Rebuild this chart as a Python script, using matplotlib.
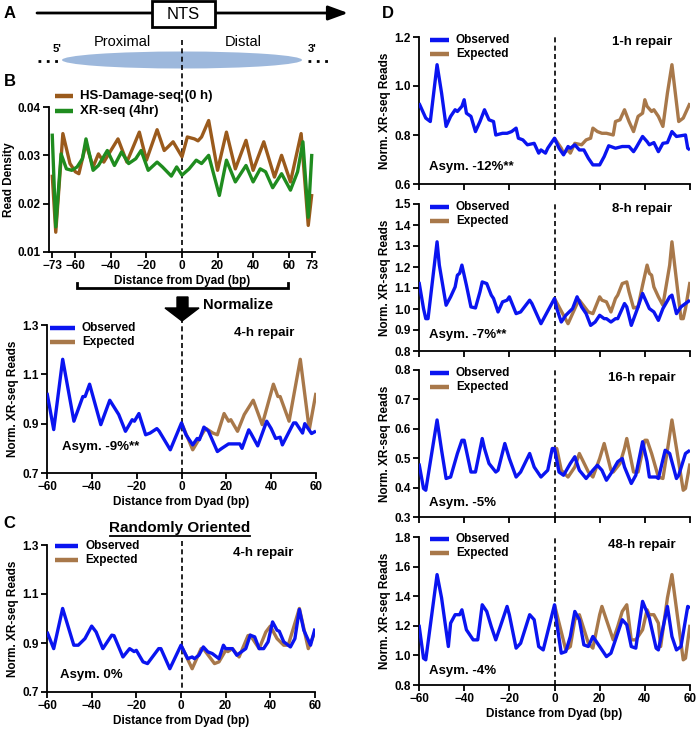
import matplotlib
matplotlib.use('Agg')
import matplotlib.pyplot as plt
from matplotlib.patches import Ellipse, Rectangle, Polygon

plt.rcParams['font.family'] = ['Liberation Sans', 'DejaVu Sans']
plt.rcParams['font.weight'] = 'bold'
plt.rcParams['axes.labelweight'] = 'bold'

# ---- panel B (top): read density ----
hs_x = [-73, -71, -67, -63, -60, -58, -54, -50, -47, -44, -36, -31, -24, -20, -14, -10, -8, -5, 0,
        3, 7, 9, 11, 15, 20, 25, 30, 36, 40, 46, 52, 56, 61, 67, 71, 73]
hs_y = [0.026, 0.0141, 0.0345, 0.0283, 0.0266, 0.0262, 0.0324, 0.0276, 0.0303, 0.0286, 0.0334, 0.0286,
        0.0348, 0.029, 0.0353, 0.031, 0.0317, 0.0328, 0.0297, 0.0338, 0.0334, 0.0330, 0.0338, 0.0372,
        0.0269, 0.0348, 0.0272, 0.0331, 0.0269, 0.0328, 0.0255, 0.030, 0.0245, 0.0345, 0.0155, 0.022]
xr_x = [-73, -71, -68, -65, -62, -59, -56, -54, -50, -47, -42, -38, -34, -30, -26, -23, -19, -14, -11, -6,
        -3, 0, 4, 8, 11, 15, 21, 25, 30, 36, 40, 44, 47, 51, 56, 61, 65, 68, 71, 73]
xr_y = [0.0345, 0.0152, 0.0303, 0.0272, 0.0269, 0.0276, 0.0293, 0.0334, 0.0269, 0.0279, 0.031, 0.0279,
        0.0307, 0.0283, 0.0293, 0.031, 0.0269, 0.0286, 0.0276, 0.0257, 0.0276, 0.0259, 0.0272, 0.029,
        0.0283, 0.030, 0.0217, 0.029, 0.0245, 0.0279, 0.0245, 0.0272, 0.0266, 0.0233, 0.0262, 0.0228,
        0.0266, 0.0328, 0.0172, 0.0303]

# ---- panel B (bottom): 4-h repair ----
b4_obs_x = [-60, -57, -53, -48, -44, -43, -41, -36, -32, -28, -25, -22, -21, -19, -16, -14, -11, -10, -5, 0,
            2, 5, 7, 8, 10, 12, 16, 18, 21, 26, 27, 30, 31, 34, 38, 40, 42, 44, 45, 50, 51, 54, 55, 58, 60]
b4_obs_y = [1.025, 0.876, 1.161, 0.91, 1.01, 1.01, 1.06, 0.896, 0.995, 0.937, 0.869, 0.916, 0.91, 0.941,
            0.855, 0.862, 0.88, 0.87, 0.794, 0.903, 0.855, 0.814, 0.84, 0.835, 0.886, 0.87, 0.787, 0.80,
            0.818, 0.818, 0.80, 0.875, 0.86, 0.81, 0.91, 0.88, 0.84, 0.845, 0.814, 0.903, 0.903, 0.862,
            0.90, 0.86, 0.87]
b4_exp_x = [0, 5, 10, 11, 14, 16, 19, 21, 22, 25, 28, 32, 36, 41, 43, 44, 48, 53, 57, 60]
b4_exp_y = [0.903, 0.794, 0.87, 0.88, 0.862, 0.855, 0.941, 0.91, 0.916, 0.869, 0.937, 0.995, 0.896, 1.06,
            1.01, 1.01, 0.91, 1.161, 0.876, 1.025]

# ---- panel C: randomly oriented ----
c_obs_x = [-60, -57, -53, -48, -46, -43, -40, -38, -35, -31, -30, -26, -23, -21, -20, -17, -15, -10, -9, -5, 0,
           3, 5, 6, 8, 10, 12, 14, 17, 19, 20, 23, 25, 26, 29, 31, 33, 35, 37, 39, 41, 43, 44, 46, 49, 51,
           53, 55, 58, 60]
c_obs_y = [0.946, 0.877, 1.041, 0.891, 0.891, 0.918, 0.969, 0.945, 0.877, 0.932, 0.93, 0.843, 0.877, 0.865,
           0.87, 0.823, 0.816, 0.877, 0.877, 0.795, 0.891, 0.836, 0.843, 0.836, 0.85, 0.884, 0.864, 0.857,
           0.836, 0.891, 0.877, 0.877, 0.85, 0.857, 0.877, 0.932, 0.925, 0.877, 0.877, 0.905, 0.986, 0.952,
           0.948, 0.905, 0.884, 0.918, 1.037, 0.952, 0.891, 0.959]
c_exp_x = [0, 5, 9, 10, 15, 17, 20, 21, 23, 26, 30, 31, 35, 38, 40, 43, 46, 48, 53, 57, 60]
c_exp_y = [0.891, 0.795, 0.877, 0.877, 0.816, 0.823, 0.87, 0.865, 0.877, 0.843, 0.93, 0.932, 0.877, 0.945,
           0.969, 0.918, 0.891, 0.891, 1.041, 0.877, 0.946]

# ---- panel D: 1, 8, 16, 48 h ----
d1_obs_x = [-60, -57, -55, -52, -50, -48, -46, -44, -43, -41, -40, -39, -37, -35, -33, -31, -29, -27, -26, -23,
            -21, -19, -17, -16, -14, -12, -9, -7, -6, -4, -3, 0,
            2, 4, 6, 7, 9, 11, 13, 15, 17, 20, 22, 24, 27, 30, 33, 35, 36, 39, 41, 42, 44, 46, 48, 50,
            52, 54, 56, 58, 59, 60]
d1_obs_y = [0.93, 0.869, 0.855, 1.087, 0.971, 0.835, 0.876, 0.903, 0.896, 0.917, 0.944, 0.889, 0.876, 0.814,
            0.855, 0.903, 0.862, 0.855, 0.80, 0.807, 0.807, 0.814, 0.828, 0.787, 0.78, 0.76, 0.766, 0.726,
            0.739, 0.726, 0.746, 0.787,
            0.746, 0.719, 0.753, 0.746, 0.76, 0.739, 0.739, 0.705, 0.678, 0.678, 0.712, 0.756, 0.746, 0.753,
            0.753, 0.732, 0.746, 0.794, 0.773, 0.76, 0.769, 0.732, 0.766, 0.769, 0.814, 0.794, 0.797, 0.80,
            0.746, 0.739]
d1_exp_x = [0, 3, 4, 6, 7, 9, 12, 14, 16, 17, 19, 21, 23, 26, 27, 29, 31, 33, 35, 37, 39, 40, 41, 43, 44, 46,
            48, 50, 52, 55, 57, 60]
d1_exp_y = [0.787, 0.746, 0.726, 0.739, 0.726, 0.766, 0.76, 0.78, 0.787, 0.828, 0.814, 0.807, 0.807, 0.80,
            0.855, 0.862, 0.903, 0.855, 0.814, 0.876, 0.889, 0.944, 0.917, 0.896, 0.903, 0.876, 0.835, 0.971,
            1.087, 0.855, 0.869, 0.93]

d8_obs_x = [-60, -58, -57, -56, -52, -51, -48, -46, -44, -43, -42, -41, -39, -37, -35, -33, -32, -30, -28, -27,
            -25, -23, -21, -20, -17, -15, -11, -10, -6, 0,
            1, 3, 5, 8, 10, 12, 14, 16, 18, 20, 22, 23, 25, 27, 28, 31, 32, 34, 37, 39, 42, 44, 46, 48,
            51, 52, 54, 56, 58, 60]
d8_obs_y = [1.129, 1.002, 0.954, 0.954, 1.32, 1.209, 1.018, 1.058, 1.105, 1.161, 1.17, 1.209, 1.113, 1.01,
            1.005, 1.082, 1.129, 1.121, 1.066, 1.05, 0.986, 1.034, 1.042, 1.058, 0.978, 0.986, 1.042, 1.026,
            0.93, 1.05,
            1.002, 0.938, 0.97, 1.002, 1.058, 1.01, 0.978, 0.922, 0.938, 0.97, 0.954, 0.954, 0.938, 0.954,
            0.954, 1.026, 1.01, 0.922, 1.01, 1.074, 1.002, 0.986, 0.946, 1.002, 1.058, 1.066, 0.978, 1.01,
            1.026, 1.042]
d8_exp_x = [0, 6, 10, 11, 15, 17, 20, 21, 23, 25, 27, 28, 30, 32, 33, 35, 37, 39, 41, 42, 43, 44, 46, 48,
            51, 52, 56, 57, 58, 60]
d8_exp_y = [1.05, 0.93, 1.026, 1.042, 0.986, 0.978, 1.058, 1.042, 1.034, 0.986, 1.05, 1.066, 1.121, 1.129,
            1.082, 1.005, 1.01, 1.113, 1.209, 1.17, 1.161, 1.105, 1.058, 1.018, 1.209, 1.32, 0.954, 0.954,
            1.002, 1.129]

d16_obs_x = [-60, -58, -57, -52, -50, -48, -46, -43, -41, -40, -37, -35, -32, -31, -29, -26, -25, -22, -20, -17,
             -15, -11, -9, -6, -3, -1, 0,
             2, 4, 7, 9, 11, 14, 17, 19, 21, 23, 25, 28, 30, 31, 34, 36, 39, 41, 42, 45, 46, 49, 51, 54,
             55, 58, 60]
d16_obs_y = [0.482, 0.397, 0.391, 0.63, 0.527, 0.431, 0.436, 0.516, 0.561, 0.561, 0.453, 0.453, 0.567, 0.533,
             0.482, 0.453, 0.459, 0.55, 0.499, 0.436, 0.453, 0.516, 0.47, 0.436, 0.459, 0.533, 0.533,
             0.453, 0.442, 0.482, 0.505, 0.459, 0.431, 0.459, 0.476, 0.459, 0.425, 0.448, 0.488, 0.499, 0.47,
             0.414, 0.442, 0.556, 0.488, 0.436, 0.436, 0.431, 0.527, 0.516, 0.431, 0.442, 0.516, 0.527]
d16_exp_x = [0, 1, 3, 6, 9, 11, 15, 17, 20, 22, 25, 26, 29, 31, 32, 35, 37, 40, 41, 43, 46, 48, 50, 52, 57,
             58, 60]
d16_exp_y = [0.533, 0.533, 0.459, 0.436, 0.47, 0.516, 0.453, 0.436, 0.499, 0.55, 0.459, 0.453, 0.482, 0.533,
             0.567, 0.453, 0.453, 0.561, 0.561, 0.516, 0.436, 0.431, 0.527, 0.63, 0.391, 0.397, 0.482]

d48_obs_x = [-60, -58, -57, -52, -50, -47, -46, -44, -42, -41, -39, -36, -34, -32, -30, -28, -26, -24, -21, -20,
             -17, -15, -11, -9, -7, -5, 0,
             1, 3, 5, 7, 9, 11, 13, 15, 17, 20, 23, 25, 30, 32, 34, 36, 39, 42, 45, 46, 50, 52, 54, 56,
             59, 60]
d48_obs_y = [1.207, 0.981, 0.97, 1.546, 1.388, 1.06, 1.218, 1.275, 1.275, 1.308, 1.173, 1.105, 1.105, 1.342,
             1.297, 1.195, 1.105, 1.195, 1.331, 1.275, 1.049, 1.082, 1.275, 1.241, 1.06, 1.037, 1.342,
             1.218, 1.015, 1.026, 1.128, 1.297, 1.241, 1.071, 1.06, 1.128, 1.06, 0.992, 1.015, 1.241, 1.207,
             1.06, 1.049, 1.365, 1.252, 1.049, 1.037, 1.331, 1.128, 1.037, 1.06, 1.331, 1.32]
d48_exp_x = [0, 5, 7, 9, 11, 15, 17, 20, 21, 24, 26, 28, 30, 32, 34, 36, 39, 41, 42, 44, 46, 47, 50, 52, 57,
             58, 60]
d48_exp_y = [1.342, 1.037, 1.06, 1.241, 1.275, 1.082, 1.049, 1.275, 1.331, 1.195, 1.105, 1.195, 1.297, 1.342,
             1.105, 1.105, 1.173, 1.308, 1.275, 1.275, 1.218, 1.06, 1.388, 1.546, 0.97, 0.981, 1.207]

d_hours = ['1-h repair', '8-h repair', '16-h repair', '48-h repair']
d_asym = ['Asym. -12%**', 'Asym. -7%**', 'Asym. -5%', 'Asym. -4%']
d_yticks = [[0.6, 0.8, 1.0, 1.2],
            [0.8, 0.9, 1.0, 1.1, 1.2, 1.3, 1.4, 1.5],
            [0.3, 0.4, 0.5, 0.6, 0.7, 0.8],
            [0.8, 1.0, 1.2, 1.4, 1.6, 1.8]]
dist_ticks = [-60, -40, -20, 0, 20, 40, 60]
b_top_xticks = [-73, -60, -40, -20, 0, 20, 40, 60, 73]
b_top_yticks = [0.01, 0.02, 0.03, 0.04]
norm_yticks = [0.7, 0.9, 1.1, 1.3]

BLUE = '#0a14f0'
EXPC = '#a8784a'
HSB = '#9a5a1c'
GRN = '#1f8c1f'

W, H = 700, 733
fig = plt.figure(figsize=(7, 7.33), dpi=100)

# overlay in pixel coords for the schematic, legends and annotations
ov = fig.add_axes([0, 0, 1, 1], zorder=0)
ov.set_xlim(0, W)
ov.set_ylim(H, 0)
ov.axis('off')


def box(x0, y0, x1, y1):
    ax = fig.add_axes([x0 / W, 1 - y1 / H, (x1 - x0) / W, (y1 - y0) / H], zorder=1)
    ax.patch.set_alpha(0)
    return ax


def style(ax, ylim, yticks, yfmt, xticks, xlim=(-60, 60), xlabels=True,
          ylabel='Norm. XR-seq Reads', vline=True):
    ax.set_xlim(*xlim)
    ax.set_ylim(*ylim)
    for s in ['top', 'right']:
        ax.spines[s].set_visible(False)
    for s in ['left', 'bottom']:
        ax.spines[s].set_linewidth(1.3)
    ax.set_yticks(yticks)
    ax.set_yticklabels([yfmt.format(v) for v in yticks])
    ax.set_xticks(xticks)
    ax.tick_params(length=4, width=1.3, labelsize=8.5, pad=2)
    if xlabels:
        ax.set_xlabel('Distance from Dyad (bp)', fontsize=8.5, labelpad=2)
    else:
        ax.set_xticklabels([])
    ax.set_ylabel(ylabel, fontsize=8.5, labelpad=2)
    if vline:
        ax.axvline(0, color='k', ls=(0, (3, 2)), lw=1.2, zorder=1)


def curve(ax, x, y, c, lw=2.4):
    ax.plot(x, y, color=c, lw=lw, solid_joinstyle='round', solid_capstyle='butt', zorder=3)


def legend(x0, y_obs, c1, t1, c2, t2, length, fs=8.5):
    ov.plot([x0, x0 + length], [y_obs, y_obs], color=c1, lw=3.2, solid_capstyle='butt')
    ov.text(x0 + length + 7, y_obs, t1, va='center', fontsize=fs)
    y2 = y_obs + (15 if fs > 9 else 14)
    ov.plot([x0, x0 + length], [y2, y2], color=c2, lw=3.2, solid_capstyle='butt')
    ov.text(x0 + length + 7, y2, t2, va='center', fontsize=fs)


def dash(y0, y1):
    ov.plot([182, 182], [y0, y1], color='k', ls=(0, (3, 2)), lw=1.2)


# ---- panel A schematic ----
ov.annotate('', xy=(348, 13), xytext=(37, 13),
            arrowprops=dict(arrowstyle='-|>,head_length=0.6,head_width=0.22', lw=2, color='k',
                            shrinkA=0, shrinkB=0, mutation_scale=20))
ov.add_patch(Rectangle((152, 1), 63, 26, fc='white', ec='k', lw=2, zorder=5))
ov.text(183.5, 14.5, 'NTS', ha='center', va='center', fontsize=12, fontweight='normal', zorder=6)
ov.text(122, 42, 'Proximal', ha='center', va='center', fontsize=10.5, fontweight='normal')
ov.text(243, 42, 'Distal', ha='center', va='center', fontsize=10.5, fontweight='normal')
ov.add_patch(Ellipse((182, 60), 240, 17, fc='#9db8dc', ec='none'))
ov.plot([38, 58], [61, 61], color='k', ls=(0, (1, 2)), lw=2)
ov.plot([308, 328], [61, 61], color='k', ls=(0, (1, 2)), lw=2)
ov.text(57, 49, "5'", ha='center', va='center', fontsize=8)
ov.text(312, 49, "3'", ha='center', va='center', fontsize=8)
dash(40, 252)

for lab, px, py in [('A', 10, 13), ('B', 10, 82), ('C', 9, 523), ('D', 388, 13)]:
    ov.text(px, py, lab, ha='center', va='center', fontsize=12)

# ---- panel B top ----
ax = box(49, 107, 315, 252)
style(ax, (0.01, 0.04), b_top_yticks, '{:.2f}', b_top_xticks, xlim=(-74.8, 74.8),
      ylabel='Read Density', vline=False)
curve(ax, hs_x, hs_y, HSB)
curve(ax, xr_x, xr_y, GRN)
legend(55, 96, HSB, 'HS-Damage-seq (0 h)', GRN, 'XR-seq (4hr)', 18, fs=9.5)

# bracket + normalize arrow
ov.plot([77, 77, 288, 288], [283, 288, 288, 283], color='k', lw=2, solid_joinstyle='miter')
ov.add_patch(Polygon([(177, 297), (188, 297), (188, 308), (199, 308), (182, 321), (165, 308), (177, 308)],
                     closed=True, fc='k', ec='k'))
ov.text(203, 305, 'Normalize', va='center', fontsize=10.5)

# ---- panel B bottom ----
ax = box(47, 325, 316, 473)
style(ax, (0.7, 1.3), norm_yticks, '{:.1f}', dist_ticks, vline=False)
curve(ax, b4_exp_x, b4_exp_y, EXPC)
curve(ax, b4_obs_x, b4_obs_y, BLUE)
dash(318, 473)
legend(50, 328, BLUE, 'Observed', EXPC, 'Expected', 25)
ov.text(264, 333, '4-h repair', ha='center', va='center', fontsize=9.5)
ov.text(62, 447, 'Asym. -9%**', va='center', fontsize=9.5)

# ---- panel C ----
ov.text(180, 528, 'Randomly Oriented', ha='center', va='center', fontsize=11)
ov.plot([110, 250], [536, 536], color='k', lw=1.3)
ax = box(47, 545, 315, 692)
style(ax, (0.7, 1.3), norm_yticks, '{:.1f}', dist_ticks, vline=False)
curve(ax, c_exp_x, c_exp_y, EXPC)
curve(ax, c_obs_x, c_obs_y, BLUE)
dash(541, 692)
legend(55, 546, BLUE, 'Observed', EXPC, 'Expected', 23)
ov.text(263, 553, '4-h repair', ha='center', va='center', fontsize=9.5)
ov.text(60, 675, 'Asym. 0%', va='center', fontsize=9.5)

# ---- panel D ----
d_series = [(d1_obs_x, d1_obs_y, d1_exp_x, d1_exp_y),
            (d8_obs_x, d8_obs_y, d8_exp_x, d8_exp_y),
            (d16_obs_x, d16_obs_y, d16_exp_x, d16_exp_y),
            (d48_obs_x, d48_obs_y, d48_exp_x, d48_exp_y)]
d_rows = [(37, 184), (204, 351), (370, 517), (537, 685)]
d_leg_y = [40, 207, 373, 539]
d_lab_y = [42, 209, 378, 545]
d_asym_y = [167, 335, 503, 671]

for i, (ox, oy, ex, ey) in enumerate(d_series):
    top, bot = d_rows[i]
    ax = box(419, top, 690, bot)
    yt = d_yticks[i]
    style(ax, (yt[0], yt[-1]), yt, '{:.1f}', dist_ticks, xlabels=(i == 3))
    curve(ax, ex, ey, EXPC)
    curve(ax, ox, oy, BLUE)
    legend(430, d_leg_y[i], BLUE, 'Observed', EXPC, 'Expected', 19)
    ov.text(642, d_lab_y[i], d_hours[i], ha='center', va='center', fontsize=9.5)
    ov.text(429, d_asym_y[i], d_asym[i], va='center', fontsize=9.5)

fig.savefig('out.png', dpi=100)
